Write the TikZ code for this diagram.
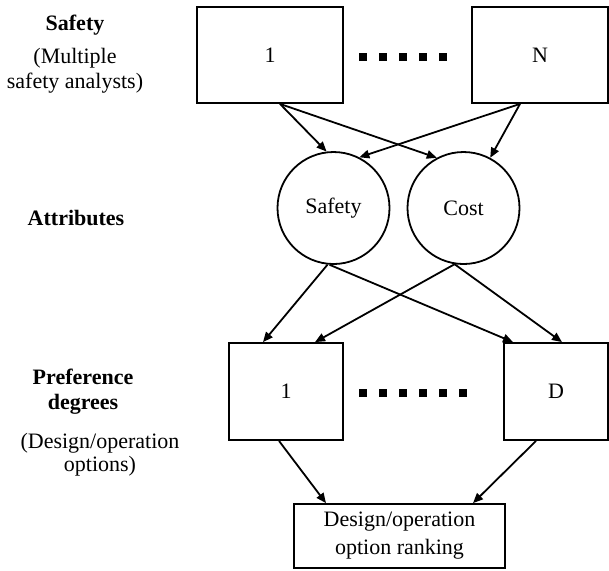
\documentclass[tikz,border=0pt]{standalone}
\usepackage{fontspec}
\setmainfont{Liberation Serif}
\usetikzlibrary{arrows.meta}
\begin{document}
\begin{tikzpicture}[x=0.5pt, y=-0.5pt,
	every node/.style={font=\fontsize{11pt}{12.5pt}\selectfont},
	boite/.style={draw, line width=0.9pt, inner sep=0pt},
	attribut/.style={draw, circle, line width=0.9pt, minimum size=56pt, inner sep=0pt},
	fleche/.style={-{Triangle[length=5pt,width=4.2pt]}, line width=0.9pt},
	titre/.style={font=\bfseries\fontsize{11pt}{12.5pt}\selectfont, align=center},
	legende/.style={align=center}]
	\useasboundingbox (0,0) rectangle (609,570);
	\node[boite, minimum width=73pt, minimum height=48pt] (ana1) at (270,55) {1};
	\node[boite, minimum width=68pt, minimum height=48pt] (anaN) at (540,55) {N};
	\node[attribut, label={[anchor=base]center:Safety}] (safety) at (333.5,208) {};
	\node[attribut, label={[anchor=base]center:Cost}] (cost) at (463.5,208) {};
	\node[boite, minimum width=57pt, minimum height=48.5pt] (opt1) at (286,391.5) {1};
	\node[boite, minimum width=52pt, minimum height=48.5pt] (optD) at (556,391.5) {D};
	\node[boite, minimum width=105.5pt, minimum height=32pt, align=center,
		font=\fontsize{11pt}{14pt}\selectfont] (ranking) at (399.5,536) {Design/operation\\option ranking};
	% légendes à gauche
	\node[titre] (tsafety) at (75,25) {Safety};
	\node[legende] (tanalysts) at (75,70.5) {(Multiple\\safety analysts)};
	\node[titre] (tattr) at (76,218) {Attributes};
	\node[titre] (tpref) at (83,391.5) {Preference\\degrees};
	\node[legende, font=\fontsize{11pt}{11.5pt}\selectfont] (toptions) at (100,454.5) {(Design/operation\\options)};
	% pointillés
	\foreach \i in {0,...,4} \fill (363+20*\i,57) +(-4,-4) rectangle +(4,4);
	\foreach \i in {0,...,5} \fill (363+20*\i,393) +(-4,-4) rectangle +(4,4);
	% flèches
	\draw[fleche] ([xshift=5pt]ana1.south) -- (safety.97);
	\draw[fleche] ([xshift=5pt]ana1.south) -- (cost.118);
	\draw[fleche] ([xshift=-10pt]anaN.south) -- (safety.63);
	\draw[fleche] ([xshift=-10pt]anaN.south) -- (cost.62);
	\draw[fleche] (safety.264) -- ([xshift=-11.5pt]opt1.north);
	\draw[fleche] (safety.266) -- ([xshift=-21.5pt]optD.north);
	\draw[fleche] (cost.261) -- ([xshift=14.5pt]opt1.north);
	\draw[fleche] (cost.261) -- ([xshift=3pt]optD.north);
	\draw[fleche] ([xshift=-3.5pt]opt1.south) -- ([xshift=-36.75pt]ranking.north);
	\draw[fleche] ([xshift=-10pt]optD.south) -- ([xshift=36.75pt]ranking.north);
\end{tikzpicture}
\end{document}
